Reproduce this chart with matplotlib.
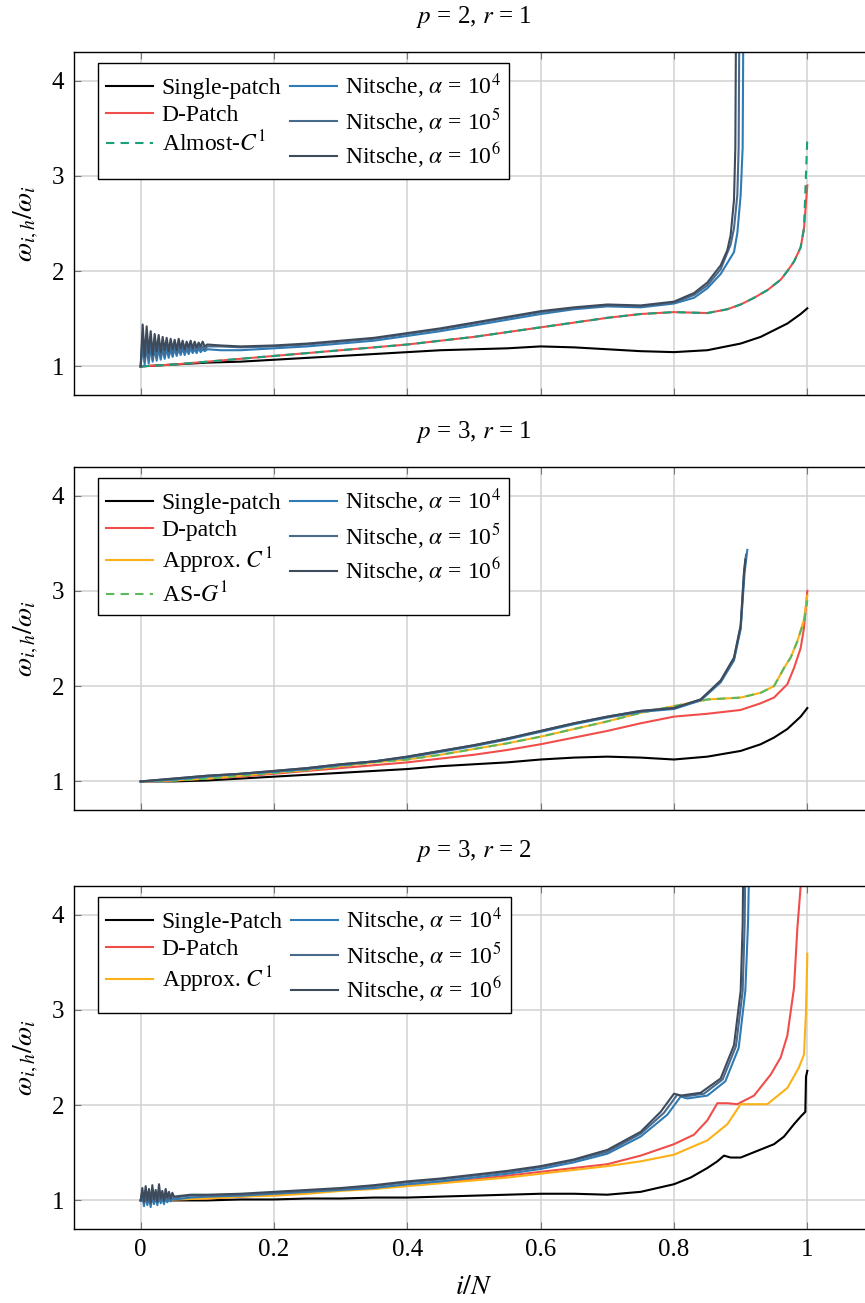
import matplotlib
matplotlib.use('Agg')
import matplotlib.pyplot as plt

plt.rcParams['font.family'] = ['Liberation Serif', 'DejaVu Serif']
plt.rcParams['mathtext.fontset'] = 'stix'
plt.rcParams['font.size'] = 17

# ---------- p = 2, r = 1 ----------
p1_x_single = [0, 0.05, 0.1, 0.15, 0.2, 0.25, 0.3, 0.35, 0.4, 0.45, 0.5, 0.55, 0.6, 0.65,
               0.7, 0.75, 0.8, 0.85, 0.9, 0.93, 0.95, 0.97, 0.99, 1.0]
p1_single = [1.0, 1.02, 1.04, 1.05, 1.07, 1.09, 1.11, 1.13, 1.15, 1.17, 1.18, 1.19, 1.21, 1.20,
             1.18, 1.16, 1.15, 1.17, 1.24, 1.31, 1.38, 1.45, 1.55, 1.61]

p1_x_dpatch = [0, 0.05, 0.1, 0.15, 0.2, 0.25, 0.3, 0.35, 0.4, 0.45, 0.5, 0.55, 0.6, 0.65,
               0.7, 0.75, 0.8, 0.85, 0.88, 0.9, 0.92, 0.94, 0.96, 0.97, 0.98, 0.99, 0.995, 1.0]
p1_dpatch = [1.0, 1.02, 1.05, 1.08, 1.11, 1.14, 1.17, 1.20, 1.23, 1.27, 1.31, 1.36, 1.41, 1.46,
             1.51, 1.55, 1.57, 1.56, 1.60, 1.65, 1.72, 1.80, 1.91, 2.00, 2.10, 2.25, 2.45, 2.90]
p1_almost = [1.0, 1.02, 1.05, 1.08, 1.11, 1.14, 1.17, 1.20, 1.23, 1.27, 1.31, 1.36, 1.41, 1.46,
             1.51, 1.55, 1.57, 1.56, 1.60, 1.65, 1.72, 1.80, 1.91, 2.00, 2.10, 2.25, 2.45, 3.40]

# noisy start of the Nitsche curves, then the smooth part
p1_x_n6 = [0.000, 0.003, 0.006, 0.009, 0.012, 0.015, 0.018, 0.021, 0.024, 0.027, 0.030, 0.033,
           0.036, 0.039, 0.042, 0.045, 0.048, 0.051, 0.054, 0.057, 0.060, 0.063, 0.066, 0.069,
           0.072, 0.075, 0.078, 0.081, 0.084, 0.087, 0.090, 0.093, 0.096, 0.100,
           0.12, 0.15, 0.2, 0.25, 0.3, 0.35, 0.4, 0.45, 0.5, 0.55, 0.6, 0.65, 0.7, 0.75, 0.8,
           0.83, 0.85, 0.87, 0.88, 0.885, 0.89, 0.892, 0.893]
p1_n6 = [1.00, 1.44, 1.10, 1.42, 1.14, 1.37, 1.12, 1.34, 1.16, 1.33, 1.15, 1.31, 1.17, 1.30,
         1.16, 1.29, 1.18, 1.28, 1.17, 1.29, 1.19, 1.27, 1.18, 1.26, 1.20, 1.27, 1.19, 1.26,
         1.20, 1.25, 1.21, 1.26, 1.21, 1.23,
         1.22, 1.21, 1.22, 1.24, 1.27, 1.30, 1.35, 1.40, 1.46, 1.52, 1.58, 1.62, 1.65, 1.64, 1.68,
         1.77, 1.88, 2.06, 2.22, 2.38, 2.75, 3.30, 4.60]
p1_x_n5 = [0.000, 0.003, 0.006, 0.009, 0.012, 0.015, 0.018, 0.021, 0.024, 0.027, 0.030, 0.033,
           0.036, 0.039, 0.042, 0.045, 0.048, 0.051, 0.054, 0.057, 0.060, 0.063, 0.066, 0.069,
           0.072, 0.075, 0.078, 0.081, 0.084, 0.087, 0.090, 0.093, 0.096, 0.100,
           0.12, 0.15, 0.2, 0.25, 0.3, 0.35, 0.4, 0.45, 0.5, 0.55, 0.6, 0.65, 0.7, 0.75, 0.8,
           0.83, 0.85, 0.87, 0.885, 0.89, 0.895, 0.897, 0.898]
p1_n5 = [1.00, 1.34, 1.05, 1.31, 1.08, 1.30, 1.07, 1.28, 1.10, 1.27, 1.11, 1.26, 1.12, 1.25,
         1.13, 1.25, 1.14, 1.24, 1.14, 1.24, 1.15, 1.23, 1.16, 1.23, 1.16, 1.22, 1.17, 1.22,
         1.17, 1.22, 1.18, 1.21, 1.18, 1.21,
         1.21, 1.20, 1.21, 1.23, 1.26, 1.29, 1.34, 1.39, 1.45, 1.51, 1.57, 1.61, 1.64, 1.63, 1.67,
         1.75, 1.85, 2.02, 2.28, 2.45, 2.80, 3.30, 4.60]
p1_x_n4 = [0.000, 0.003, 0.006, 0.009, 0.012, 0.015, 0.018, 0.021, 0.024, 0.027, 0.030, 0.033,
           0.036, 0.039, 0.042, 0.045, 0.048, 0.051, 0.054, 0.057, 0.060, 0.063, 0.066, 0.069,
           0.072, 0.075, 0.078, 0.081, 0.084, 0.087, 0.090, 0.093, 0.096, 0.100,
           0.12, 0.15, 0.2, 0.25, 0.3, 0.35, 0.4, 0.45, 0.5, 0.55, 0.6, 0.65, 0.7, 0.75, 0.8,
           0.83, 0.85, 0.87, 0.89, 0.895, 0.9, 0.903, 0.904]
p1_n4 = [1.00, 1.22, 1.02, 1.21, 1.03, 1.20, 1.05, 1.19, 1.06, 1.19, 1.07, 1.18, 1.08, 1.19,
         1.09, 1.18, 1.10, 1.19, 1.11, 1.18, 1.12, 1.19, 1.12, 1.18, 1.13, 1.19, 1.14, 1.18,
         1.14, 1.19, 1.15, 1.18, 1.16, 1.18,
         1.17, 1.17, 1.19, 1.21, 1.24, 1.27, 1.32, 1.37, 1.43, 1.49, 1.55, 1.60, 1.63, 1.62, 1.66,
         1.72, 1.82, 1.97, 2.20, 2.40, 2.80, 3.30, 4.60]

# ---------- p = 3, r = 1 ----------
p2_x_single = [0, 0.05, 0.1, 0.15, 0.2, 0.25, 0.3, 0.35, 0.4, 0.45, 0.5, 0.55, 0.6, 0.65,
               0.7, 0.75, 0.8, 0.85, 0.9, 0.93, 0.95, 0.97, 0.99, 1.0]
p2_single = [1.0, 1.0, 1.01, 1.03, 1.05, 1.07, 1.09, 1.11, 1.13, 1.16, 1.18, 1.20, 1.23, 1.25,
             1.26, 1.25, 1.23, 1.26, 1.32, 1.39, 1.46, 1.55, 1.68, 1.77]

p2_x_dpatch = [0, 0.05, 0.1, 0.15, 0.2, 0.25, 0.3, 0.35, 0.4, 0.45, 0.5, 0.55, 0.6, 0.65,
               0.7, 0.75, 0.8, 0.85, 0.9, 0.93, 0.95, 0.97, 0.98, 0.99, 0.995, 1.0]
p2_dpatch = [1.0, 1.01, 1.03, 1.05, 1.08, 1.11, 1.14, 1.17, 1.20, 1.24, 1.28, 1.33, 1.39, 1.46,
             1.53, 1.61, 1.68, 1.71, 1.75, 1.82, 1.88, 2.02, 2.19, 2.40, 2.61, 3.00]

p2_x_approx = [0, 0.05, 0.1, 0.15, 0.2, 0.25, 0.3, 0.35, 0.4, 0.45, 0.5, 0.55, 0.6, 0.65,
               0.7, 0.75, 0.8, 0.85, 0.9, 0.93, 0.95, 0.965, 0.975, 0.985, 0.995, 1.0]
p2_approx = [1.0, 1.01, 1.03, 1.06, 1.09, 1.12, 1.16, 1.20, 1.23, 1.28, 1.34, 1.40, 1.47, 1.55,
             1.63, 1.72, 1.79, 1.86, 1.88, 1.93, 2.00, 2.19, 2.30, 2.47, 2.70, 2.95]
p2_asg1 = [1.0, 1.01, 1.03, 1.06, 1.09, 1.12, 1.16, 1.20, 1.23, 1.28, 1.34, 1.40, 1.47, 1.55,
           1.63, 1.72, 1.79, 1.86, 1.88, 1.93, 2.00, 2.19, 2.30, 2.47, 2.68, 2.90]

p2_x_n6 = [0, 0.05, 0.1, 0.15, 0.2, 0.25, 0.3, 0.35, 0.4, 0.45, 0.5, 0.55, 0.6, 0.65,
           0.7, 0.75, 0.8, 0.84, 0.87, 0.89, 0.9, 0.905, 0.907]
p2_n6 = [1.0, 1.03, 1.06, 1.08, 1.11, 1.14, 1.18, 1.21, 1.26, 1.32, 1.38, 1.45, 1.53, 1.61,
         1.68, 1.74, 1.77, 1.86, 2.06, 2.30, 2.64, 3.20, 3.33]
p2_x_n5 = [0, 0.05, 0.1, 0.15, 0.2, 0.25, 0.3, 0.35, 0.4, 0.45, 0.5, 0.55, 0.6, 0.65,
           0.7, 0.75, 0.8, 0.84, 0.87, 0.89, 0.9, 0.905, 0.908]
p2_n5 = [1.0, 1.03, 1.06, 1.08, 1.11, 1.14, 1.18, 1.21, 1.26, 1.32, 1.38, 1.45, 1.53, 1.61,
         1.68, 1.74, 1.77, 1.86, 2.05, 2.29, 2.62, 3.18, 3.38]
p2_x_n4 = [0, 0.05, 0.1, 0.15, 0.2, 0.25, 0.3, 0.35, 0.4, 0.45, 0.5, 0.55, 0.6, 0.65,
           0.7, 0.75, 0.8, 0.84, 0.87, 0.89, 0.9, 0.906, 0.91]
p2_n4 = [1.0, 1.02, 1.05, 1.08, 1.10, 1.13, 1.17, 1.21, 1.25, 1.31, 1.37, 1.44, 1.52, 1.60,
         1.67, 1.73, 1.76, 1.85, 2.04, 2.27, 2.60, 3.20, 3.43]

# ---------- p = 3, r = 2 ----------
p3_x_single = [0, 0.05, 0.1, 0.15, 0.2, 0.25, 0.3, 0.35, 0.4, 0.45, 0.5, 0.55, 0.6, 0.65,
               0.7, 0.75, 0.8, 0.825, 0.85, 0.865, 0.875, 0.885, 0.9, 0.925, 0.95, 0.965,
               0.98, 0.99, 0.997, 0.998, 1.0]
p3_single = [1.0, 1.0, 1.0, 1.01, 1.01, 1.02, 1.02, 1.03, 1.03, 1.04, 1.05, 1.06, 1.07, 1.07,
             1.06, 1.09, 1.17, 1.24, 1.34, 1.41, 1.47, 1.45, 1.45, 1.52, 1.59, 1.67,
             1.80, 1.88, 1.93, 2.30, 2.36]

p3_x_dpatch = [0, 0.05, 0.1, 0.15, 0.2, 0.25, 0.3, 0.35, 0.4, 0.45, 0.5, 0.55, 0.6, 0.65,
               0.7, 0.75, 0.8, 0.83, 0.85, 0.865, 0.88, 0.895, 0.92, 0.945, 0.96, 0.97,
               0.98, 0.985, 0.99, 0.993]
p3_dpatch = [1.0, 1.01, 1.02, 1.04, 1.06, 1.08, 1.11, 1.13, 1.16, 1.19, 1.22, 1.26, 1.30, 1.34,
             1.38, 1.47, 1.59, 1.69, 1.84, 2.02, 2.02, 2.01, 2.10, 2.32, 2.50, 2.73,
             3.23, 3.85, 4.30, 4.60]

p3_x_approx = [0, 0.05, 0.1, 0.15, 0.2, 0.25, 0.3, 0.35, 0.4, 0.45, 0.5, 0.55, 0.6, 0.65,
               0.7, 0.75, 0.8, 0.85, 0.88, 0.9, 0.94, 0.97, 0.987, 0.995, 0.998, 1.0]
p3_approx = [1.0, 1.01, 1.02, 1.04, 1.05, 1.07, 1.10, 1.12, 1.15, 1.18, 1.21, 1.24, 1.28, 1.32,
             1.36, 1.41, 1.48, 1.63, 1.80, 2.01, 2.01, 2.18, 2.39, 2.53, 2.98, 3.59]

p3_x_n6 = [0, 0.0025, 0.005, 0.0075, 0.01, 0.0125, 0.015, 0.0175, 0.02, 0.0225, 0.025, 0.0275,
           0.03, 0.0325, 0.035, 0.0375, 0.04, 0.0425, 0.045, 0.0475, 0.05,
           0.075, 0.1, 0.15, 0.2, 0.25, 0.3, 0.35, 0.4, 0.45, 0.5, 0.55, 0.6, 0.65, 0.7, 0.75,
           0.78, 0.8, 0.81, 0.84, 0.87, 0.89, 0.9, 0.903, 0.904]
p3_n6 = [1.00, 1.13, 0.99, 1.15, 1.00, 1.12, 0.98, 1.16, 1.01, 1.11, 0.99, 1.17, 1.02, 1.10,
         1.00, 1.12, 1.03, 1.09, 1.02, 1.08, 1.04,
         1.06, 1.06, 1.07, 1.09, 1.11, 1.13, 1.16, 1.20, 1.23, 1.27, 1.31, 1.36, 1.43, 1.53, 1.72,
         1.93, 2.12, 2.10, 2.13, 2.28, 2.63, 3.20, 3.90, 4.60]
p3_x_n5 = [0, 0.0025, 0.005, 0.0075, 0.01, 0.0125, 0.015, 0.0175, 0.02, 0.0225, 0.025, 0.0275,
           0.03, 0.0325, 0.035, 0.0375, 0.04, 0.0425, 0.045, 0.0475, 0.05,
           0.075, 0.1, 0.15, 0.2, 0.25, 0.3, 0.35, 0.4, 0.45, 0.5, 0.55, 0.6, 0.65, 0.7, 0.75,
           0.785, 0.805, 0.815, 0.845, 0.873, 0.893, 0.903, 0.906, 0.907]
p3_n5 = [1.00, 1.09, 0.97, 1.10, 0.98, 1.08, 0.96, 1.11, 0.99, 1.08, 0.98, 1.12, 1.00, 1.07,
         0.99, 1.08, 1.01, 1.06, 1.01, 1.06, 1.03,
         1.05, 1.05, 1.06, 1.08, 1.10, 1.12, 1.15, 1.19, 1.22, 1.26, 1.30, 1.35, 1.42, 1.51, 1.70,
         1.92, 2.11, 2.09, 2.12, 2.27, 2.62, 3.20, 3.90, 4.60]
p3_x_n4 = [0, 0.0025, 0.005, 0.0075, 0.01, 0.0125, 0.015, 0.0175, 0.02, 0.0225, 0.025, 0.0275,
           0.03, 0.0325, 0.035, 0.0375, 0.04, 0.0425, 0.045, 0.0475, 0.05,
           0.075, 0.1, 0.15, 0.2, 0.25, 0.3, 0.35, 0.4, 0.45, 0.5, 0.55, 0.6, 0.65, 0.7, 0.75,
           0.79, 0.81, 0.82, 0.85, 0.877, 0.897, 0.907, 0.911, 0.913]
p3_n4 = [1.00, 1.05, 0.94, 1.06, 0.95, 1.04, 0.93, 1.05, 0.96, 1.04, 0.95, 1.06, 0.97, 1.03,
         0.96, 1.04, 0.98, 1.03, 0.99, 1.02, 1.01,
         1.03, 1.04, 1.05, 1.07, 1.09, 1.11, 1.13, 1.17, 1.20, 1.24, 1.28, 1.33, 1.40, 1.49, 1.67,
         1.90, 2.09, 2.07, 2.10, 2.25, 2.60, 3.20, 3.90, 4.60]

C_SINGLE = 'black'
C_DPATCH = '#f04e4b'
C_ALMOST = '#17a07a'
C_APPROX = '#fbb117'
C_ASG1 = '#5cb85c'
C_N4 = '#2f7bb5'
C_N5 = '#4a6a8c'
C_N6 = '#3d4b5c'
LW = 1.5
DASH = (0, (4, 3))

fig = plt.figure(figsize=(8.65, 13.03), dpi=100)
W, H = 865.0, 1303.0
tops = [52, 467, 886]
ax_h = 343
axes = [fig.add_axes([74 / W, 1 - (t + ax_h) / H, 800 / W, ax_h / H]) for t in tops]

ax1, ax2, ax3 = axes

# panel 1
ax1.plot(p1_x_single, p1_single, color=C_SINGLE, lw=LW, label='Single-patch')
ax1.plot(p1_x_dpatch, p1_dpatch, color=C_DPATCH, lw=LW, label='D-Patch')
ax1.plot(p1_x_dpatch, p1_almost, color=C_ALMOST, lw=LW, ls=DASH, label='Almost-$C^1$')
ax1.plot(p1_x_n4, p1_n4, color=C_N4, lw=LW, label=r'Nitsche, $\alpha$ = 10$^4$')
ax1.plot(p1_x_n5, p1_n5, color=C_N5, lw=LW, label=r'Nitsche, $\alpha$ = 10$^5$')
ax1.plot(p1_x_n6, p1_n6, color=C_N6, lw=LW, label=r'Nitsche, $\alpha$ = 10$^6$')
ax1.set_title(r'$p$ = 2, $r$ = 1', pad=21, fontsize=18)

# panel 2
ax2.plot(p2_x_single, p2_single, color=C_SINGLE, lw=LW, label='Single-patch')
ax2.plot(p2_x_dpatch, p2_dpatch, color=C_DPATCH, lw=LW, label='D-patch')
ax2.plot(p2_x_approx, p2_approx, color=C_APPROX, lw=LW, label='Approx. $C^1$')
ax2.plot(p2_x_approx, p2_asg1, color=C_ASG1, lw=LW, ls=DASH, label='AS-$G^1$')
ax2.plot(p2_x_n4, p2_n4, color=C_N4, lw=LW, label=r'Nitsche, $\alpha$ = 10$^4$')
ax2.plot(p2_x_n5, p2_n5, color=C_N5, lw=LW, label=r'Nitsche, $\alpha$ = 10$^5$')
ax2.plot(p2_x_n6, p2_n6, color=C_N6, lw=LW, label=r'Nitsche, $\alpha$ = 10$^6$')
ax2.set_title(r'$p$ = 3, $r$ = 1', pad=21, fontsize=18)

# panel 3
ax3.plot(p3_x_single, p3_single, color=C_SINGLE, lw=LW, label='Single-Patch')
ax3.plot(p3_x_dpatch, p3_dpatch, color=C_DPATCH, lw=LW, label='D-Patch')
ax3.plot(p3_x_approx, p3_approx, color=C_APPROX, lw=LW, label='Approx. $C^1$')
ax3.plot(p3_x_n4, p3_n4, color=C_N4, lw=LW, label=r'Nitsche, $\alpha$ = 10$^4$')
ax3.plot(p3_x_n5, p3_n5, color=C_N5, lw=LW, label=r'Nitsche, $\alpha$ = 10$^5$')
ax3.plot(p3_x_n6, p3_n6, color=C_N6, lw=LW, label=r'Nitsche, $\alpha$ = 10$^6$')
ax3.set_title(r'$p$ = 3, $r$ = 2', pad=21, fontsize=18)
ax3.set_xlabel(r'$i/N$', fontsize=20, labelpad=10)

xticks = [0, 0.2, 0.4, 0.6, 0.8, 1.0]
xtick_labels = ['0', '0.2', '0.4', '0.6', '0.8', '1']
for ax in axes:
    ax.set_xlim(-0.1, 1.1)
    ax.set_ylim(0.7, 4.3)
    ax.set_xticks(xticks)
    ax.set_yticks([1, 2, 3, 4])
    ax.set_axisbelow(True)
    ax.grid(True, color='#d2d2d2', lw=1.1)
    ax.tick_params(direction='in', length=5, color='#777777', top=True, right=True,
                   labelsize=18, pad=7)
    for s in ax.spines.values():
        s.set_color('black')
        s.set_linewidth(1.0)
    ax.set_ylabel(r'$\omega_{i,h}/\omega_i$', fontsize=20, labelpad=8)
    leg = ax.legend(ncol=2, loc='upper left', bbox_to_anchor=(24 / 800, 1 - 11 / ax_h),
                    borderaxespad=0, fancybox=False, framealpha=1, edgecolor='black',
                    fontsize=17, handlelength=2.0, handletextpad=0.35, columnspacing=0.35,
                    labelspacing=0.22, borderpad=0.35)
    leg.get_frame().set_linewidth(1.0)
    if ax is not ax3:
        ax.set_xticklabels([])
    else:
        ax.set_xticklabels(xtick_labels)

fig.savefig('out.png', dpi=100)
